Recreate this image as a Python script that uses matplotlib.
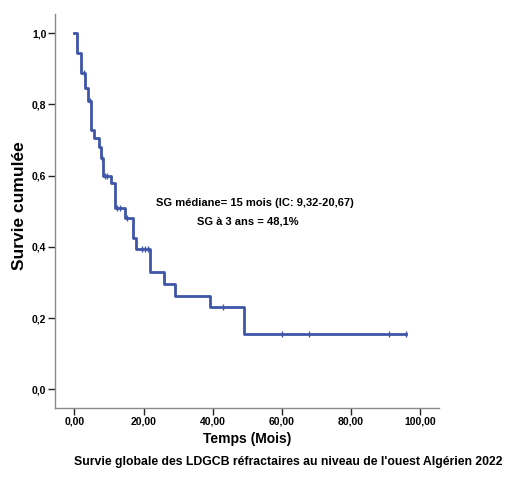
import matplotlib
matplotlib.use("Agg")
import matplotlib.pyplot as plt

plt.rcParams['font.family'] = ['Liberation Sans', 'DejaVu Sans']
plt.rcParams['font.weight'] = 'bold'

# Kaplan-Meier steps (months, cumulative survival)
step_times = [0.0, 0.8, 2.0, 3.0, 3.9, 4.7, 5.7, 7.0, 7.7, 8.3, 10.7, 11.6,
              14.6, 17.0, 17.9, 21.8, 25.9, 29.0, 39.2, 49.0]
step_surv = [1.0, 0.944, 0.888, 0.846, 0.81, 0.728, 0.705, 0.68, 0.65, 0.60,
             0.578, 0.508, 0.482, 0.424, 0.395, 0.33, 0.297, 0.262, 0.23, 0.154]
censor_times = [2.7, 4.6, 7.9, 8.9, 9.5, 12.4, 13.3, 15.3, 19.6, 20.4, 21.2,
                43.0, 60.1, 67.9, 91.1, 96.1]
end_time = 96.1

x_ticks = [0, 20, 40, 60, 80, 100]
y_ticks = [0.0, 0.2, 0.4, 0.6, 0.8, 1.0]

median_txt = "SG médiane= 15 mois (IC: 9,32-20,67)"
three_y_txt = "SG à 3 ans = 48,1%"
caption = "Survie globale des LDGCB réfractaires au niveau de l'ouest Algérien 2022"

col = '#3f55a8'

fig = plt.figure(figsize=(5.12, 4.83), dpi=100)
ax = fig.add_axes([0.108, 0.155, 0.749, 0.816])

# step curve
xs = step_times + [end_time]
ys = step_surv + [step_surv[-1]]
ax.step(xs, ys, where='post', color=col, lw=2.0)


def surv_at(t):
    s = step_surv[0]
    for tt, ss in zip(step_times, step_surv):
        if tt <= t:
            s = ss
    return s


ax.plot(censor_times, [surv_at(t) for t in censor_times], ls='none',
        marker='|', ms=5, mew=1.0, color=col)

ax.set_xlim(-5.56, 105.5)
ax.set_ylim(-0.053, 1.054)
ax.set_xticks(x_ticks)
ax.set_xticklabels([f"{v:.2f}".replace('.', ',') for v in x_ticks])
ax.set_yticks(y_ticks)
ax.set_yticklabels([f"{v:.1f}".replace('.', ',') for v in y_ticks])
ax.tick_params(labelsize=7.5, length=5, width=1, direction='out', color='#222222')
ax.tick_params(axis='y', pad=1.5)
ax.tick_params(axis='x', pad=1.0)

for s in ['top', 'right']:
    ax.spines[s].set_visible(False)
for s in ['left', 'bottom']:
    ax.spines[s].set_color('#8a8a8a')
    ax.spines[s].set_linewidth(1.0)

ax.set_xlabel("Temps (Mois)", fontsize=10, fontweight='bold', labelpad=4)
ax.set_ylabel("Survie cumulée", fontsize=12.5, fontweight='bold')
ax.yaxis.set_label_coords(-0.075, 0.513)

ax.text(52.2, 0.523, median_txt, fontsize=8, ha='center', va='center')
ax.text(50.2, 0.47, three_y_txt, fontsize=8, ha='center', va='center')

fig.text(0.5625, 0.0435, caption, fontsize=8.8, ha='center', va='center')

fig.savefig("out.png", dpi=100)
